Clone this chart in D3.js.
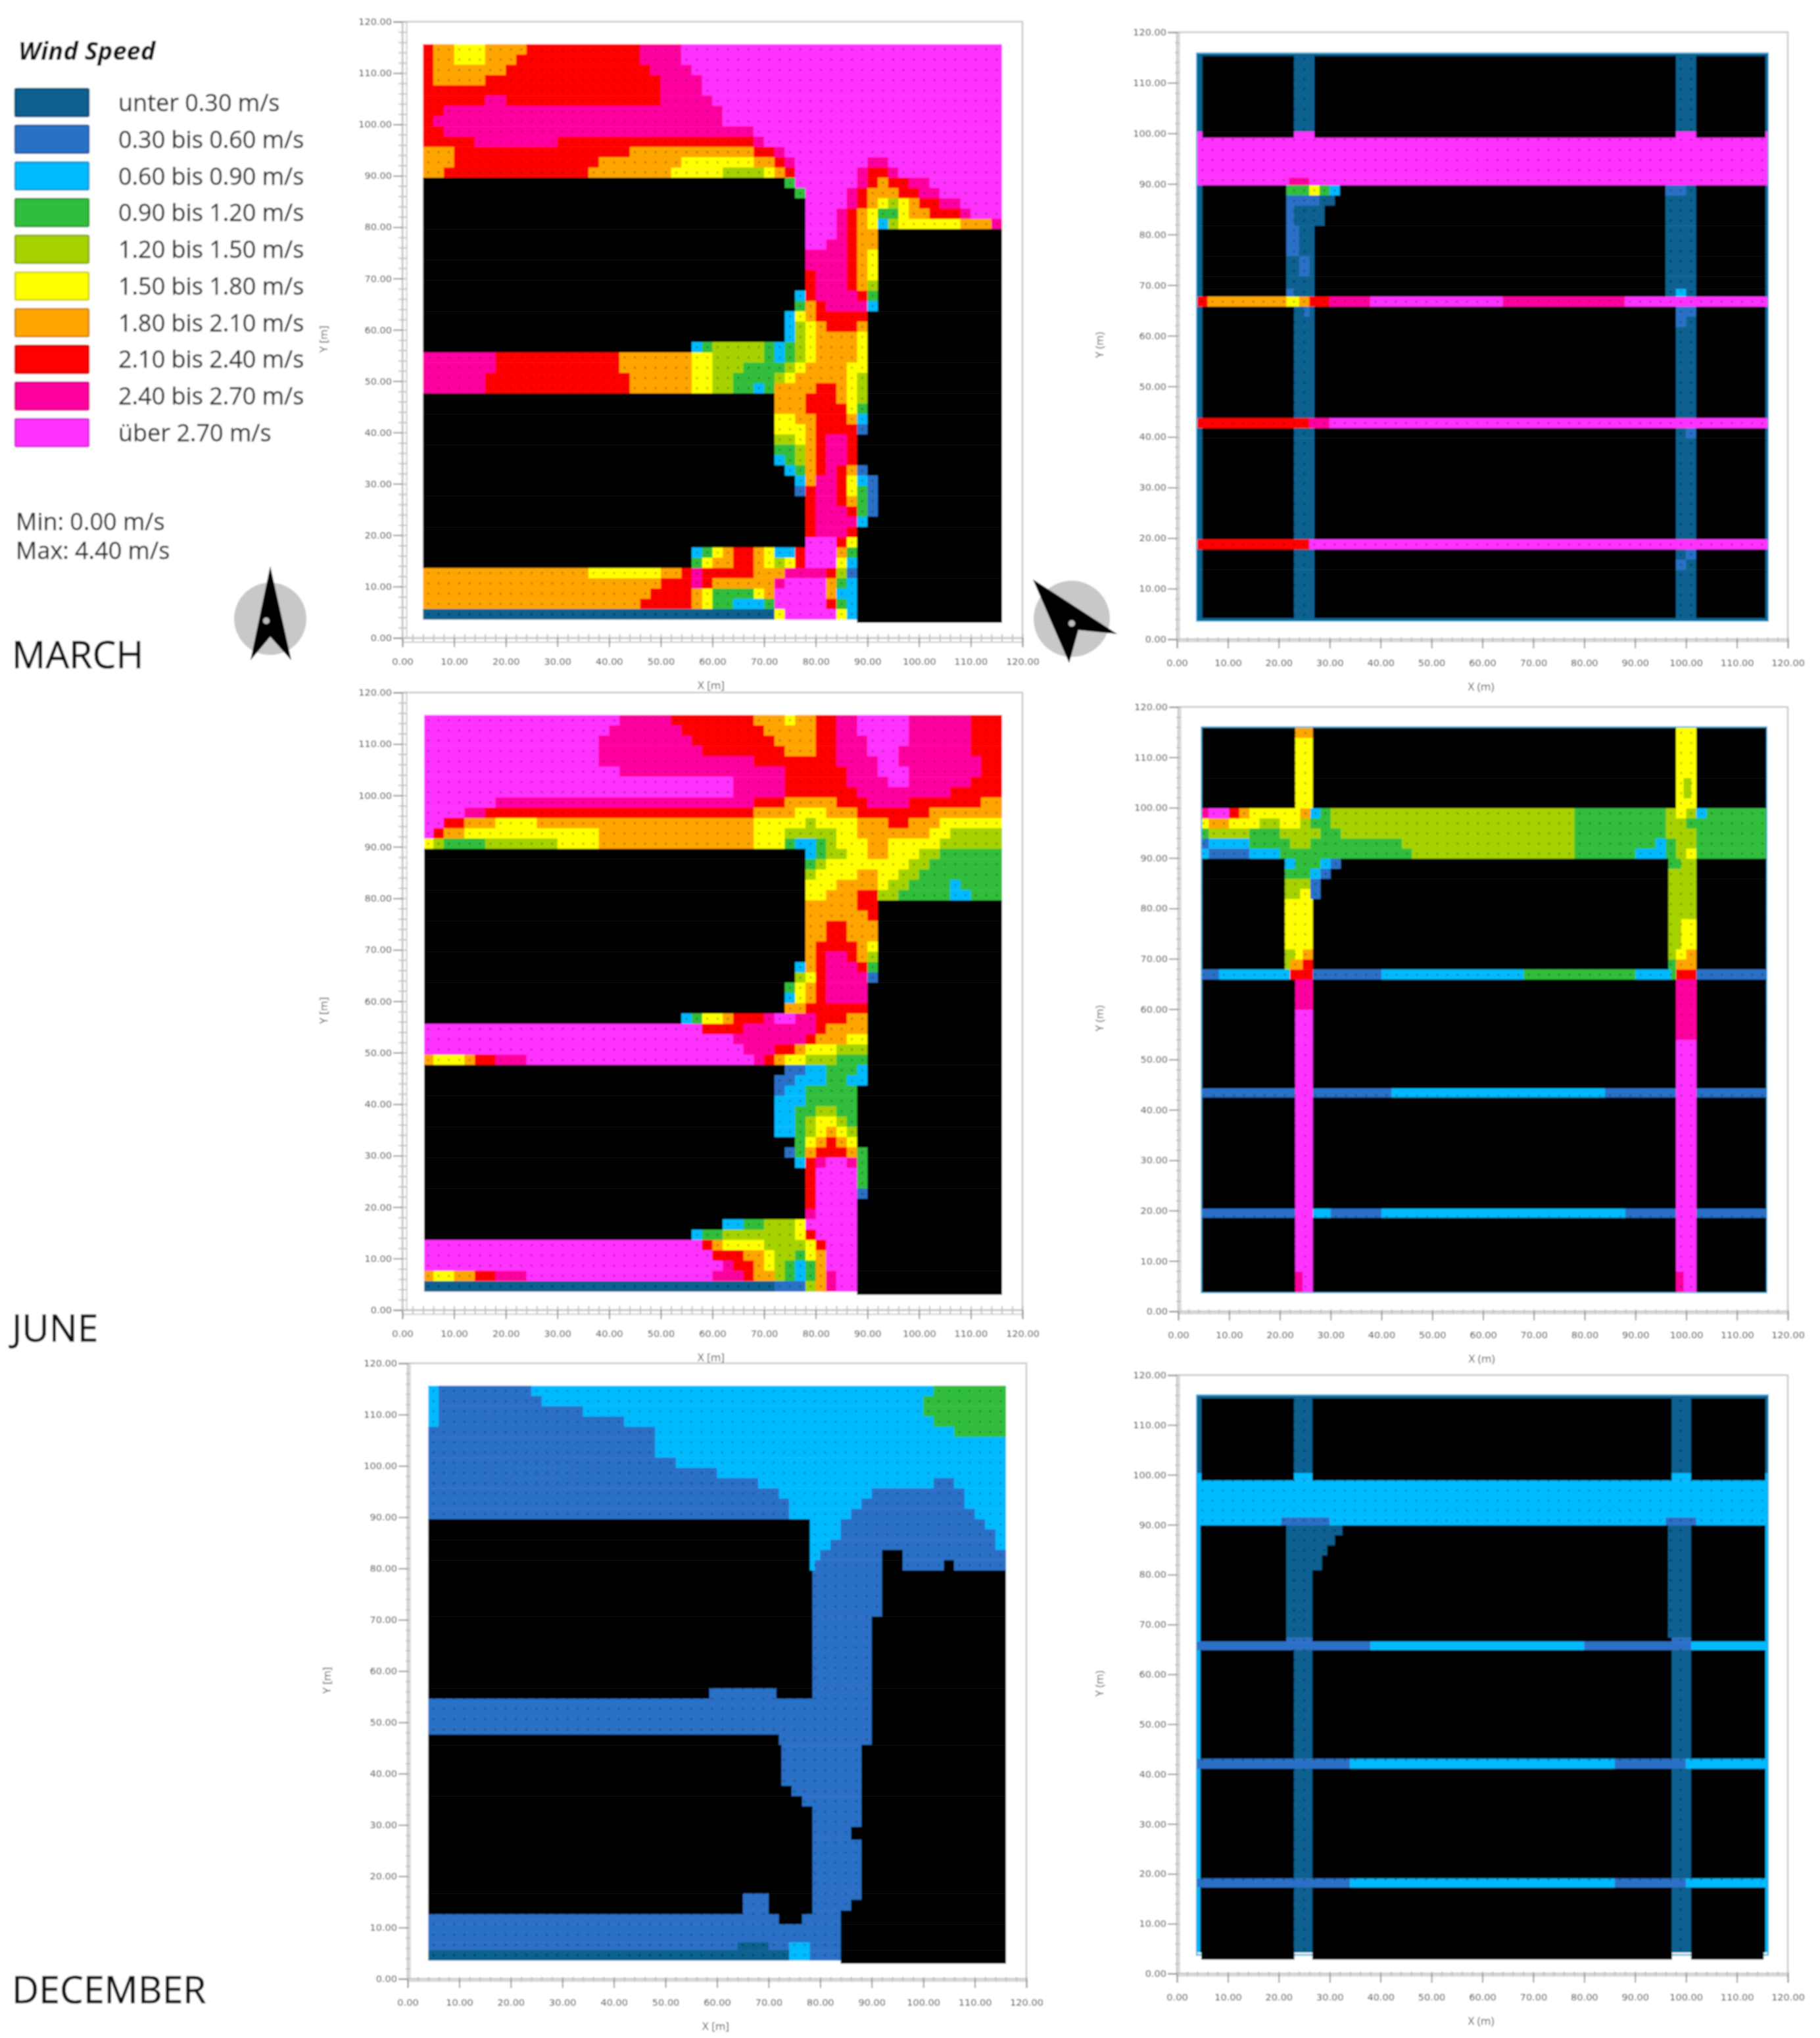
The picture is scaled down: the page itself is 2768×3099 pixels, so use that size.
<!DOCTYPE html>
<html><head><meta charset="utf-8">
<style>html,body{margin:0;padding:0;background:#fff}svg{display:block}text{font-family:"Open Sans",sans-serif}</style>
<script src="https://cdn.jsdelivr.net/npm/d3@7"></script></head><body>
<script>
// Speed classes: token letter -> legend entry. k = building (black), z = no data
const classKeys = ["a","b","c","d","e","f","g","h","i","j"];
const classColors = ["#07608f","#2a70c6","#05baff","#30be3c","#a6d200","#ffff00","#ffa500","#ff0000","#ff00a0","#ff33ff"];
const classLabels = ["unter 0.30 m/s","0.30 bis 0.60 m/s","0.60 bis 0.90 m/s","0.90 bis 1.20 m/s","1.20 bis 1.50 m/s","1.50 bis 1.80 m/s","1.80 bis 2.10 m/s","2.10 bis 2.40 m/s","2.40 bis 2.70 m/s","über 2.70 m/s"];
const axisTicks = [0,10,20,30,40,50,60,70,80,90,100,110,120];
const minMaxLabels = ["Min: 0.00 m/s","Max: 4.40 m/s"];
const monthLabels = ["MARCH","JUNE","DECEMBER"];

// Each row: [upper Y in m, runs "<class><end X in m>"]; the next row's Y closes it.
const marchLeft = [
[116,"h6g10f16g24h46i54j116"],[114,"h6g10f16g22h46i54j116"],[112,"h6g20h48i56j116"],[110,"h6g16h50i58j116"],
[108,"h50i58j116"],[106,"h16i20h50i60j116"],[104,"h8i62j116"],[102,"h6i62j116"],[100,"h8i68j116"],[98,"h14i30h68i70j116"],
[96,"g10h44g68h72i74j116"],[94,"g10h38g54f68g72h74i76j90i94j116"],[92,"g8h36g52f62e70f72g74h76j88i90h94i96j116"],
[90,"k74d76j88i90h92g94h98i102j116"],[88,"k76d78j86i88h90g96h100i104j116"],[86,"k78j86i88h90g92f94e96f98g100h104i108j116"],
[84,"k78j84i86h88g90f92d96f98g102h108i110j116"],[82,"k78j84i86h88g90f92c94e96f108g114i116"],
[80,"k78j84i86h88g92k116"],[78,"k78j82i86h88g92k116"],[76,"k78i86h88g90f92k116"],[74,"k78i86h88g90f92k116"],
[72,"k78h80i86h88g90f92k116"],[70,"k78h80i86h88g90e92k116"],[68,"k76c78h80i88h90d92k116"],[66,"k76d78g80h82i90c92k116"],
[64,"k74c76f78g80h90k116"],[62,"k74c76e78f80g82h88g90k116"],[60,"k74c76e78f80g88f90k116"],[58,"k56c58d60e70d72c74d76e78f80g88f90k116"],
[56,"i18h42g56f60e70d72c74d76e78f80g88f90k116"],[54,"i18h42g56f60e66d74e76f78g86f90k116"],[52,"i16h44g56f60e64d72e74f76g86f88e90k116"],
[50,"i16h44g56f60e64d68c70d72g80h84g86f88e90k116"],[48,"k72g78h84g86f88e90k116"],[46,"k72g78h86f88d90k116"],[44,"k72f76g80h86g88c90k116"],
[42,"k72f78g80h88b90k116"],[40,"k72e76f78g80h82i86h88k116"],[38,"k72d76e78g80h82i86h88k116"],[36,"k72c74d76e78g80h82i86h88k116"],
[34,"k74c76d78g80h82i84h86g88b90k116"],[32,"k76c78g80i84h86f88c90b92k116"],[30,"k76b78h80i84h86f88d90b92k116"],[28,"k78h80i84h86g88d90b92k116"],
[26,"k78h80i86h88d90b92k116"],[24,"k78h80i88c90k116"],[22,"k78h80i86h88k116"],[20,"k78j84h86f88k116"],
[18,"k56c58d60f62g64h68g70f72c76h78j84g86d88k116"],[16,"k56d58f60g64h68g70f72e74f76h78j84f86c88k116"],
[14,"g36f50g54h56i58h68g74i82h84e86b88k116"],[12,"g50h56i58h60g72i74j82g84d86c88k116"],[10,"g48h56g58f60d68f70g72j82g84c88k116"],
[8,"g46h56g58f60d64c70d72j82h84d86c88k116"],[6,"a72f74j84f86c88k116"],[4,"z88k116"],[3.4,""]];

const marchRight = [
[116,"a116"],[115.6,"a5k23a27k98a102k115.6a116"],[100.6,"j5k23j27k98j102k115.6j116"],[99.4,"j116"],[91.5,"j22i26j116"],[90,"a5k21.5d26f28d30c32k96b100a102k115.6a116"],
[88,"a5k21.5b28a31k96a102k115.6a116"],[86,"a5k21.5b23a29k96a102k115.6a116"],[82,"a5k21.5b24a27k96a102k115.6a116"],[76,"a5k21.5a24b26a27k96a102k115.6a116"],
[72,"a5k21.5a27k96a102k115.6a116"],[69.5,"a5k21.5b23a27k96a98c100a102k115.6a116"],[68,"h6g21.5f24g26h30i38j64i88j116"],
[66,"a5k23a25b26a27k98b102k115.6a116"],[64,"a5k23a27k98b100a102k115.6a116"],[62,"a5k23a27k98a102k115.6a116"],[44,"h26i30j116"],
[42,"a5k23a27k98a100b102k115.6a116"],[40,"a5k23a27k98a102k115.6a116"],[20,"h26j116"],[18,"a5k23a27k98a100b102k115.6a116"],
[16,"a5k23a27k98b100a102k115.6a116"],[14,"a5k23a27k98a102k115.6a116"],[4.4,"a116"],[4,""]];

const juneLeft = [
[116,"j42i52h68g74f76g80h84i88j98i110h116"],[114,"j40i54h70g80h84i88j98i110h116"],[112,"j38i56h72g80h84i90j98i110h116"],[110,"j38i58h74g80h84i90j96i110h116"],
[108,"j38i68h84i92j96i112h116"],[106,"j42i74h86i92j98i112h116"],[104,"j64i74h86i94j98i110h116"],[102,"j64i74h88i106h116"],[100,"j18i68h74g84h90i98h112g116"],
[98,"j12i16h68g76f82g88h102g116"],[96,"j8h12g18f26g68f78e80f88g94h98g104f116"],[94,"j6h8g12f38g68f74e84f88g102f106e116"],[92,"f6e8d16e30f38g68f74d76c80d82e84f90g94f104e116"],
[90,"k78c80d82e86f90g94f100e104d116"],[88,"k78d80e82f98e102d116"],[86,"k78e80f88g92f96e100d116"],[84,"k78f84g92f94e98d106c108d116"],[82,"k78f82g88h92e96d106c110d116"],
[80,"k78g88h92k116"],[78,"k78g90h92k116"],[76,"k78g82h86g92k116"],[74,"k78g82h86g92k116"],[72,"k78g80h88g90f92k116"],[70,"k78g80h82i86h88g90e92k116"],
[68,"k76c78g80h82i88h90d92k116"],[66,"k76e78f80h82i90b92k116"],[64,"k74d76f78g80h82i90k116"],[62,"k74c76f78g80h82i90k116"],[60,"k74g78h90k116"],
[58,"k54c56d58f62g64h70i72j76i80h86g90k116"],[56,"j58h66i80h82g90k116"],[54,"j64i78h80g86f90k116"],[52,"j66i72h76g78f84e90k116"],
[50,"g6f12g14h18i24j68i70h72g74f78e84d90k116"],[48,"k74b78c82d88c90k116"],[46,"k72b76c82d86c90k116"],[44,"k72b74c78d88k116"],[42,"k72c78d88k116"],
[40,"k72c76d80e84d88k116"],[38,"k72c76d78e80f84e86d88k116"],[36,"k72c76d78e80f82g84f86e88k116"],[34,"k76d78f80g82h84g86f88k116"],[32,"k74b76d78g80h86g88d90k116"],
[30,"k76c78h80i82j86i88d90k116"],[28,"k78h80j88d90k116"],[24,"k78h80j88b90k116"],[22,"k78h80j88k116"],[20,"k78i80j88k116"],[18,"k62c66d70e76f78j88k116"],
[16,"k56c58d62e76f78h80j88k116"],[14,"j58h60g62f70e78f80h82j88k116"],[12,"j60h66g70f72e76d78f80g82j88k116"],[10,"j62i64h68g70f72e74d76c78d80g82j88k116"],
[8,"g6f10g14h18i24j60i66h68g72e74d76c78d80g82i84j88k116"],[6,"a72b78e80g82i84j88k116"],[4,"z88k116"],[3.4,""]];

const juneRight = [
[116,"k23g26.5k98f102k116"],[114,"k23f26.5k98f102k116"],[106,"k23f26.5k98f99.5e101f102k116"],[102,"k23f26.5k98f102k116"],
[100,"i6j10h12g14f24g26c28d30e78d96e98f100e102c104d116"],[98,"f6g10f16e20f24e26d30e78d96e100d116"],[96,"d6e14d20e28d32e78d96e102d116"],
[94,"b6c14d22e26d44e78d94c96d98e102d116"],[92,"c6b14c20d46e78d90c96d98e100f102d116"],[90,"k21c23d28c30b32k96.5d99e102k116"],[88,"k21d26c28b30k96.5e102k116"],
[86,"k21e26b28k96.5e102k116"],[84,"k21e24f26b28k96.5e102k116"],[82,"k21f26.5k96.5e102k116"],[78,"k21f26.5k96.5e99f102k116"],[72,"k21e23f24.5g26.5k96.5e98f100g102k116"],
[70,"k21e22g24.5h26.5k96.5d98g102k116"],[68,"b8c22h26.5b40c68d90c97d98h102b116"],[66,"k23i26.5k98i102k116"],[60,"k23j26.5k98i102k116"],[54,"k23j26.5k98j102k116"],
[44.4,"b23j26.5b42c84b98j102b116"],[42.6,"k23j26.5k98j102k116"],[20.5,"b23j26.5c30b40c88b98j102b116"],[18.7,"k23j26.5k98j102k116"],[8,"k23i24.5j26.5k98i99.5j102k116"],[4,""]];

const decemberLeft = [
[116,"c6b24c102d116"],[114,"c6b26c100d116"],[112,"c6b34c100d116"],[110,"c6b42c102d116"],[108,"b48c106d116"],[106,"b48c116"],[102,"b52c116"],[100,"b60c116"],
[98,"b68c102b106c116"],[96,"b72c90b108c116"],[94,"b74c88b108c116"],[92,"b74c86b110c116"],[90,"k78c84b112c116"],[88,"k78c84b114c116"],[86,"k78c82b114c116"],
[84,"k78c80b92k96b116"],[82,"k78c79b92k96b104k106b116"],[80,"k78.5b92k116"],[71,"k78.5b90k116"],[57,"k58.5b71.5k78.5b90k116"],[55,"b90k116"],[48,"k72b90k116"],
[46,"k72.5b88k116"],[38,"k74.5b88k116"],[36,"k76.5b88k116"],[34,"k78.5b88k116"],[30,"k78.5b86k116"],[27.5,"k78.5b88k116"],[17,"k65b70k78.5b88k116"],
[15.8,"k65b70k78.5b86k116"],[13.7,"k65b70k78.5b84k116"],[13,"b72k76.5b84k116"],[11,"b84k116"],[7.5,"b64a70b74c78b84k116"],[6,"a74c78b84k116"],[4,"z84k116"],[3.4,""]];

const decemberRight = [
[116,"a116"],[115.5,"a4.8k23a26.6k97.2a101k115.6a116"],[100.5,"c4.8k23c26.6k97.2c101k115.6c116"],[99,"c116"],[91.6,"c20.5b30c96b102c116"],[90,"c4.6k21.5a32.5k96.5a101k115.6c116"],
[88,"c4.6k21.5a31k96.5a101k115.6c116"],[86,"c4.6k21.5a29.5k96.5a101k115.6c116"],[84,"c4.6k21.5a28.5k96.5a101k115.6c116"],[81,"c4.6k21.5a26.6k96.5a101k115.6c116"],[67.5,"c4.6k21.5b26.6k97.2b101k115.6c116"],
[66.7,"b38c80b101c116"],[65,"c4.6k23a26.6k97.2a101k115.6c116"],[43.2,"b34c86b100c116"],[41.2,"c4.6k23a26.6k97.2a101k115.6c116"],[19.2,"b34c86b100c116"],[17.4,"c4.6k23a26.6k97.2a101k115.6c116"],
[4.4,"z4.8k23z26.6k97.2z101k115.2"],[3,""]];

const panels = [
 {rows:marchLeft, x0:612,x1:1555,yTop:33,yBot:970,xTitle:"X [m]",yTitle:"Y [m]",ruler:12,titleX:498,dy:3,xStart:4,xEnd:116},
 {rows:marchRight,x0:1790,x1:2719,yTop:49,yBot:972,xTitle:"X (m)",yTitle:"Y (m)",ruler:6,titleX:1678,edge:1,dy:2,xStart:4,xEnd:116},
 {rows:juneLeft,  x0:612,x1:1555,yTop:1053,yBot:1992,xTitle:"X [m]",yTitle:"Y [m]",ruler:12,titleX:498,dy:3,xStart:4.2,xEnd:116},
 {rows:juneRight, x0:1792,x1:2719,yTop:1075,yBot:1994,xTitle:"X (m)",yTitle:"Y (m)",ruler:6,titleX:1678,edge:1,dy:1,xStart:4.7,xEnd:115.7},
 {rows:decemberLeft,x0:620,x1:1561,yTop:2073,yBot:3009,xTitle:"X [m]",yTitle:"Y [m]",ruler:6,titleX:503,dy:3,xStart:4,xEnd:116},
 {rows:decemberRight,x0:1790,x1:2719,yTop:2091,yBot:3001,xTitle:"X (m)",yTitle:"Y (m)",ruler:6,titleX:1678,edge:1,dy:1,xStart:4,xEnd:116}
];

const W=2768,H=3099;
const svg=d3.select("body").append("svg").attr("width",W).attr("height",H);
const blur=svg.append("defs").append("filter").attr("id","soft").attr("filterUnits","userSpaceOnUse")
  .attr("x",0).attr("y",0).attr("width",W).attr("height",H);
blur.append("feGaussianBlur").attr("stdDeviation",1.2);
const root=svg.append("g").attr("filter","url(#soft)");
root.append("rect").attr("width",W).attr("height",H).attr("fill","#fff");

const color=d3.scaleOrdinal().domain(classKeys.concat(["k"])).range(classColors.concat(["#000"]));
const fmt=d3.format(".2f");

function parseRows(p){
  const out=[], rows=p.rows;
  rows.forEach((r,i)=>{
    if(i===rows.length-1) return;
    let start=p.xStart;
    for(const m of r[1].matchAll(/([a-kz])([\d.]+)/g)){
      const end=Math.min(+m[2],p.xEnd);
      if(end>start) out.push({key:m[1],x0:start,x1:end,top:r[0],bottom:rows[i+1][0]});
      start=Math.max(start,end);
    }
  });
  return out;
}

panels.forEach(p=>{
  const g=root.append("g");
  const x=d3.scaleLinear().domain([0,120]).range([p.x0,p.x1]);
  const y=d3.scaleLinear().domain([0,120]).range([p.yBot,p.yTop]);
  g.append("rect").attr("x",x(0)).attr("y",y(120)).attr("width",x(120)-x(0)).attr("height",y(0)-y(120))
    .attr("fill","#fff").attr("stroke","#c9c9c9").attr("stroke-width",2.5);
  // rulers
  const minor=d3.range(0,121,2);
  const rx=g.append("g").attr("transform",`translate(0,${y(0)+p.ruler/2})`)
    .call(d3.axisTop(x).tickValues(minor).tickSize(p.ruler).tickFormat(""));
  rx.select(".domain").attr("stroke","#bdbdbd").attr("stroke-width",1.5);
  rx.selectAll("line").attr("stroke","#b0b0b0").attr("stroke-width",1.5);
  const ry=g.append("g").attr("transform",`translate(${x(0)+p.ruler/2},0)`)
    .call(d3.axisLeft(y).tickValues(minor).tickSize(p.ruler).tickFormat(""));
  ry.select(".domain").attr("stroke","#bdbdbd").attr("stroke-width",1.5);
  ry.selectAll("line").attr("stroke","#b0b0b0").attr("stroke-width",1.5);
  // labelled axes
  const ax=g.append("g").attr("transform",`translate(0,${y(0)})`)
    .call(d3.axisBottom(x).tickValues(axisTicks).tickSize(14).tickPadding(17).tickFormat(fmt));
  const ay=g.append("g").attr("transform",`translate(${x(0)},0)`)
    .call(d3.axisLeft(y).tickValues(axisTicks).tickSize(14).tickPadding(2).tickFormat(fmt));
  [ax,ay].forEach(a=>{a.select(".domain").attr("stroke","#c4c4c4").attr("stroke-width",2);
    a.selectAll("line").attr("stroke","#777").attr("stroke-width",1.6);
    a.selectAll("text").attr("font-size",14.5).attr("fill","#333").style("font-family","'DejaVu Sans',sans-serif");});
  g.append("text").attr("x",(x(0)+x(120))/2-2).attr("y",y(0)+78).attr("text-anchor","middle").attr("font-size",17).attr("fill","#444").text(p.xTitle);
  g.append("text").attr("transform",`translate(${p.titleX},${(y(0)+y(120))/2+14}) rotate(-90)`).attr("text-anchor","middle").attr("font-size",17).attr("fill","#444").text(p.yTitle);
  const runs=parseRows(p).filter(d=>d.key!=="z");
  const data=g.append("g").attr("transform",`translate(0,${p.dy})`);
  if(p.edge) data.append("rect").attr("x",x(p.xStart)-1).attr("y",y(116)-1).attr("width",x(p.xEnd)-x(p.xStart)+2).attr("height",y(4)-y(116)+2)
    .attr("fill","none").attr("stroke","#19a5dc").attr("stroke-width",2);
  data.append("g").selectAll("rect").data(runs).join("rect")
    .attr("x",d=>x(d.x0)).attr("y",d=>y(d.top))
    .attr("width",d=>x(d.x1)-x(d.x0)+0.4).attr("height",d=>y(d.bottom)-y(d.top)+0.4)
    .attr("fill",d=>color(d.key));
  // measurement points: one dot per 2 m cell over the coloured area
  const path=d3.path();
  runs.filter(d=>d.key!=="k").forEach(d=>{
    d3.range(5,116,2).filter(v=>v>=d.x0&&v<d.x1).forEach(vx=>{
      d3.range(5,116,2).filter(v=>v<=d.top&&v>d.bottom).forEach(vy=>{
        path.moveTo(x(vx)+1.6,y(vy)); path.arc(x(vx),y(vy),1.6,0,2*Math.PI);
      });
    });
  });
  data.append("path").attr("d",path.toString()).attr("fill","#000").attr("opacity",0.3);
});

// Legend
const lg=root.append("g");
lg.append("text").attr("x",28).attr("y",91).attr("font-size",38).attr("font-weight",700).attr("font-style","italic").attr("fill","#111").text("Wind Speed");
const rowY=d3.scalePoint().domain(classLabels).range([156,658]);
const item=lg.selectAll("g.it").data(classLabels).join("g").attr("class","it").attr("transform",d=>`translate(0,${rowY(d)})`);
item.append("rect").attr("x",23).attr("y",-21).attr("width",112).attr("height",42).attr("rx",2)
  .attr("fill",(d,i)=>classColors[i]).attr("stroke",(d,i)=>d3.color(classColors[i]).darker(0.6)).attr("stroke-width",2.5);
item.append("text").attr("x",180).attr("y",13).attr("font-size",36).attr("fill","#2c2c2c").attr("stroke","#2c2c2c").attr("stroke-width",0.4).text(d=>d);
lg.selectAll("text.mm").data(minMaxLabels).join("text").attr("class","mm").attr("x",24).attr("y",(d,i)=>806+i*44)
  .attr("font-size",36).attr("fill","#2c2c2c").attr("stroke","#2c2c2c").attr("stroke-width",0.4).text(d=>d);
const monthY=[1016,2040,3046];
lg.selectAll("text.mo").data(monthLabels).join("text").attr("class","mo").attr("x",18).attr("y",(d,i)=>monthY[i])
  .attr("font-size",57).attr("fill","#111").attr("stroke","#111").attr("stroke-width",0.6).text(d=>d);

// North arrows
const n1=root.append("g");
n1.append("circle").attr("cx",411).attr("cy",941).attr("r",55).attr("fill","#c8c8c8");
n1.append("path").attr("d","M411 861 L443 1004 L411 968 L381 1004 Z").attr("fill","#000");
n1.append("circle").attr("cx",405).attr("cy",944).attr("r",5).attr("fill","#bbb");
const n2=root.append("g");
n2.append("circle").attr("cx",1630).attr("cy",941).attr("r",58).attr("fill","#c8c8c8");
n2.append("path").attr("d","M1571 881 L1699 964 L1640 958 L1626 1008 Z").attr("fill","#000");
n2.append("circle").attr("cx",1630).attr("cy",948).attr("r",5).attr("fill","#bbb");
</script></body></html>
